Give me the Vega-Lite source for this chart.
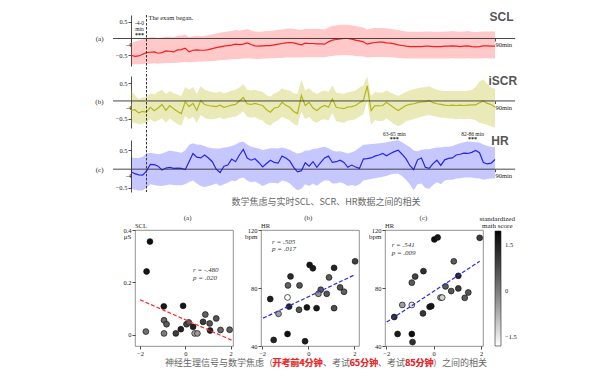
{
"$schema": "https://vega.github.io/schema/vega-lite/v6.json",
"background": "white",
"padding": {"left": 94, "top": 10, "right": 5, "bottom": 5},
"config": {
  "font": "Liberation Serif",
  "view": {"stroke": null},
  "axis": {"labelFont": "Liberation Serif", "labelFontSize": 6.5, "labelColor": "#222", "tickColor": "#222", "domainColor": "#222", "grid": false, "tickSize": 3, "labelPadding": 1, "titleFont": "Liberation Serif", "titleFontWeight": "normal", "titleFontSize": 7, "titleColor": "#222", "domainWidth": 0.8, "tickWidth": 0.8, "format": "~g"},
  "text": {"font": "Liberation Serif", "color": "#222"}
},
"datasets": {
"ts": [
{"t":-4,"a":-0.50,"alo":-0.78,"ahi":-0.15,"b":-0.27,"blo":-0.62,"bhi":0.30,"c":-0.07,"clo":-0.52,"chi":0.32},
{"t":-3,"a":-0.53,"alo":-0.77,"ahi":-0.10,"b":-0.25,"blo":-0.62,"bhi":0.16,"c":-0.12,"clo":-0.55,"chi":0.30},
{"t":-2,"a":-0.52,"alo":-0.77,"ahi":-0.06,"b":-0.34,"blo":-0.66,"bhi":0.05,"c":-0.15,"clo":-0.57,"chi":0.30},
{"t":-1,"a":-0.47,"alo":-0.76,"ahi":-0.02,"b":-0.30,"blo":-0.64,"bhi":0.10,"c":-0.16,"clo":-0.57,"chi":0.33},
{"t":0,"a":-0.42,"alo":-0.75,"ahi":0.02,"b":-0.32,"blo":-0.62,"bhi":0.12,"c":-0.05,"clo":-0.50,"chi":0.42},
{"t":1,"a":-0.41,"alo":-0.75,"ahi":0.03,"b":-0.18,"blo":-0.52,"bhi":0.22,"c":0.13,"clo":-0.40,"chi":0.44},
{"t":2,"a":-0.40,"alo":-0.74,"ahi":0.04,"b":-0.28,"blo":-0.60,"bhi":0.18,"c":0.12,"clo":-0.42,"chi":0.42},
{"t":3,"a":-0.44,"alo":-0.75,"ahi":0.01,"b":-0.20,"blo":-0.55,"bhi":0.26,"c":0.08,"clo":-0.44,"chi":0.40},
{"t":4,"a":-0.42,"alo":-0.74,"ahi":0.03,"b":-0.10,"blo":-0.50,"bhi":0.32,"c":-0.02,"clo":-0.45,"chi":0.42},
{"t":5,"a":-0.37,"alo":-0.73,"ahi":0.05,"b":-0.27,"blo":-0.62,"bhi":0.20,"c":0.03,"clo":-0.43,"chi":0.46},
{"t":6,"a":-0.38,"alo":-0.73,"ahi":0.05,"b":-0.13,"blo":-0.50,"bhi":0.28,"c":0.05,"clo":-0.41,"chi":0.50},
{"t":7,"a":-0.40,"alo":-0.73,"ahi":0.04,"b":-0.22,"blo":-0.58,"bhi":0.22,"c":0.02,"clo":-0.42,"chi":0.48},
{"t":8,"a":-0.34,"alo":-0.72,"ahi":0.08,"b":-0.30,"blo":-0.66,"bhi":0.18,"c":0.03,"clo":-0.43,"chi":0.46},
{"t":9,"a":-0.33,"alo":-0.71,"ahi":0.09,"b":-0.36,"blo":-0.70,"bhi":0.14,"c":0.02,"clo":-0.43,"chi":0.44},
{"t":10,"a":-0.29,"alo":-0.70,"ahi":0.12,"b":-0.02,"blo":-0.42,"bhi":0.40,"c":-0.01,"clo":-0.40,"chi":0.50},
{"t":11,"a":-0.40,"alo":-0.71,"ahi":0.04,"b":-0.16,"blo":-0.52,"bhi":0.32,"c":0.20,"clo":-0.34,"chi":0.65},
{"t":12,"a":-0.35,"alo":-0.70,"ahi":0.07,"b":-0.07,"blo":-0.45,"bhi":0.40,"c":0.42,"clo":-0.30,"chi":0.69},
{"t":13,"a":-0.34,"alo":-0.69,"ahi":0.08,"b":-0.27,"blo":-0.62,"bhi":0.20,"c":0.32,"clo":-0.38,"chi":0.66},
{"t":14,"a":-0.35,"alo":-0.69,"ahi":0.07,"b":0.01,"blo":-0.40,"bhi":0.42,"c":0.30,"clo":-0.45,"chi":0.65},
{"t":15,"a":-0.35,"alo":-0.68,"ahi":0.08,"b":-0.10,"blo":-0.48,"bhi":0.32,"c":0.38,"clo":-0.48,"chi":0.62},
{"t":16,"a":-0.33,"alo":-0.68,"ahi":0.10,"b":-0.13,"blo":-0.52,"bhi":0.28,"c":0.30,"clo":-0.45,"chi":0.58},
{"t":17,"a":-0.30,"alo":-0.67,"ahi":0.12,"b":-0.15,"blo":-0.52,"bhi":0.25,"c":0.20,"clo":-0.42,"chi":0.56},
{"t":18,"a":-0.27,"alo":-0.66,"ahi":0.15,"b":-0.16,"blo":-0.50,"bhi":0.24,"c":0.00,"clo":-0.38,"chi":0.55},
{"t":19,"a":-0.25,"alo":-0.65,"ahi":0.17,"b":-0.12,"blo":-0.47,"bhi":0.27,"c":-0.09,"clo":-0.45,"chi":0.55},
{"t":20,"a":-0.23,"alo":-0.64,"ahi":0.19,"b":-0.18,"blo":-0.52,"bhi":0.22,"c":0.08,"clo":-0.40,"chi":0.58},
{"t":21,"a":-0.21,"alo":-0.63,"ahi":0.21,"b":-0.15,"blo":-0.48,"bhi":0.25,"c":0.11,"clo":-0.36,"chi":0.59},
{"t":22,"a":-0.20,"alo":-0.62,"ahi":0.22,"b":-0.12,"blo":-0.46,"bhi":0.30,"c":0.27,"clo":-0.30,"chi":0.62},
{"t":23,"a":-0.17,"alo":-0.61,"ahi":0.25,"b":-0.10,"blo":-0.45,"bhi":0.32,"c":0.20,"clo":-0.32,"chi":0.66},
{"t":24,"a":-0.18,"alo":-0.61,"ahi":0.24,"b":0.00,"blo":-0.38,"bhi":0.38,"c":0.38,"clo":-0.25,"chi":0.72},
{"t":25,"a":-0.17,"alo":-0.60,"ahi":0.25,"b":0.10,"blo":-0.30,"bhi":0.48,"c":0.53,"clo":-0.22,"chi":0.74},
{"t":26,"a":-0.13,"alo":-0.60,"ahi":0.28,"b":-0.08,"blo":-0.45,"bhi":0.32,"c":0.30,"clo":-0.30,"chi":0.66},
{"t":27,"a":-0.18,"alo":-0.60,"ahi":0.24,"b":-0.10,"blo":-0.48,"bhi":0.30,"c":0.24,"clo":-0.35,"chi":0.60},
{"t":28,"a":-0.22,"alo":-0.61,"ahi":0.21,"b":-0.07,"blo":-0.46,"bhi":0.32,"c":0.28,"clo":-0.33,"chi":0.58},
{"t":29,"a":-0.23,"alo":-0.61,"ahi":0.20,"b":-0.10,"blo":-0.52,"bhi":0.28,"c":0.18,"clo":-0.38,"chi":0.55},
{"t":30,"a":-0.22,"alo":-0.60,"ahi":0.21,"b":-0.13,"blo":-0.56,"bhi":0.26,"c":0.06,"clo":-0.45,"chi":0.51},
{"t":31,"a":-0.21,"alo":-0.60,"ahi":0.22,"b":-0.25,"blo":-0.66,"bhi":0.16,"c":0.15,"clo":-0.40,"chi":0.53},
{"t":32,"a":-0.21,"alo":-0.59,"ahi":0.22,"b":-0.32,"blo":-0.70,"bhi":0.12,"c":0.24,"clo":-0.36,"chi":0.56},
{"t":33,"a":-0.19,"alo":-0.59,"ahi":0.24,"b":-0.20,"blo":-0.60,"bhi":0.22,"c":0.18,"clo":-0.37,"chi":0.56},
{"t":34,"a":-0.17,"alo":-0.58,"ahi":0.26,"b":-0.18,"blo":-0.55,"bhi":0.26,"c":0.16,"clo":-0.38,"chi":0.55},
{"t":35,"a":-0.15,"alo":-0.58,"ahi":0.27,"b":-0.04,"blo":-0.45,"bhi":0.36,"c":0.35,"clo":-0.30,"chi":0.58},
{"t":36,"a":-0.13,"alo":-0.57,"ahi":0.29,"b":-0.12,"blo":-0.50,"bhi":0.32,"c":0.30,"clo":-0.33,"chi":0.55},
{"t":37,"a":-0.12,"alo":-0.57,"ahi":0.30,"b":-0.18,"blo":-0.55,"bhi":0.30,"c":0.22,"clo":-0.38,"chi":0.52},
{"t":38,"a":-0.13,"alo":-0.57,"ahi":0.29,"b":-0.30,"blo":-0.66,"bhi":0.22,"c":0.05,"clo":-0.48,"chi":0.46},
{"t":39,"a":-0.16,"alo":-0.57,"ahi":0.27,"b":-0.36,"blo":-0.70,"bhi":0.20,"c":-0.07,"clo":-0.56,"chi":0.42},
{"t":40,"a":-0.19,"alo":-0.57,"ahi":0.25,"b":0.15,"blo":-0.30,"bhi":0.60,"c":-0.04,"clo":-0.52,"chi":0.44},
{"t":41,"a":-0.14,"alo":-0.56,"ahi":0.29,"b":-0.13,"blo":-0.52,"bhi":0.30,"c":0.17,"clo":-0.40,"chi":0.50},
{"t":42,"a":-0.15,"alo":-0.56,"ahi":0.28,"b":-0.04,"blo":-0.45,"bhi":0.36,"c":0.08,"clo":-0.45,"chi":0.50},
{"t":43,"a":-0.15,"alo":-0.56,"ahi":0.28,"b":-0.20,"blo":-0.58,"bhi":0.26,"c":0.20,"clo":-0.38,"chi":0.54},
{"t":44,"a":-0.16,"alo":-0.56,"ahi":0.28,"b":-0.27,"blo":-0.62,"bhi":0.20,"c":0.05,"clo":-0.44,"chi":0.55},
{"t":45,"a":-0.16,"alo":-0.56,"ahi":0.28,"b":-0.18,"blo":-0.55,"bhi":0.26,"c":0.18,"clo":-0.36,"chi":0.58},
{"t":46,"a":-0.17,"alo":-0.56,"ahi":0.27,"b":-0.13,"blo":-0.52,"bhi":0.30,"c":0.30,"clo":-0.30,"chi":0.60},
{"t":47,"a":-0.10,"alo":-0.54,"ahi":0.33,"b":-0.18,"blo":-0.56,"bhi":0.26,"c":0.35,"clo":-0.30,"chi":0.56},
{"t":48,"a":-0.05,"alo":-0.52,"ahi":0.38,"b":0.06,"blo":-0.34,"bhi":0.44,"c":0.18,"clo":-0.38,"chi":0.50},
{"t":49,"a":-0.03,"alo":-0.51,"ahi":0.39,"b":-0.18,"blo":-0.58,"bhi":0.24,"c":0.20,"clo":-0.38,"chi":0.47},
{"t":50,"a":-0.01,"alo":-0.50,"ahi":0.41,"b":-0.20,"blo":-0.60,"bhi":0.22,"c":0.24,"clo":-0.35,"chi":0.48},
{"t":51,"a":0.00,"alo":-0.50,"ahi":0.41,"b":-0.22,"blo":-0.62,"bhi":0.20,"c":0.18,"clo":-0.38,"chi":0.45},
{"t":52,"a":0.00,"alo":-0.50,"ahi":0.41,"b":-0.17,"blo":-0.56,"bhi":0.25,"c":0.05,"clo":-0.45,"chi":0.42},
{"t":53,"a":-0.02,"alo":-0.51,"ahi":0.39,"b":-0.16,"blo":-0.55,"bhi":0.27,"c":0.11,"clo":-0.42,"chi":0.45},
{"t":54,"a":-0.05,"alo":-0.52,"ahi":0.37,"b":-0.13,"blo":-0.52,"bhi":0.30,"c":0.06,"clo":-0.45,"chi":0.50},
{"t":55,"a":-0.07,"alo":-0.53,"ahi":0.35,"b":-0.05,"blo":-0.45,"bhi":0.38,"c":0.02,"clo":-0.40,"chi":0.58},
{"t":56,"a":-0.10,"alo":-0.54,"ahi":0.33,"b":0.01,"blo":-0.38,"bhi":0.45,"c":0.27,"clo":-0.30,"chi":0.65},
{"t":57,"a":-0.17,"alo":-0.57,"ahi":0.27,"b":0.43,"blo":0.00,"bhi":0.70,"c":0.28,"clo":-0.28,"chi":0.66},
{"t":58,"a":-0.14,"alo":-0.56,"ahi":0.30,"b":-0.27,"blo":-0.68,"bhi":0.15,"c":0.30,"clo":-0.26,"chi":0.67},
{"t":59,"a":-0.12,"alo":-0.55,"ahi":0.31,"b":-0.13,"blo":-0.55,"bhi":0.25,"c":0.35,"clo":-0.24,"chi":0.68},
{"t":60,"a":-0.11,"alo":-0.55,"ahi":0.31,"b":-0.14,"blo":-0.57,"bhi":0.24,"c":0.38,"clo":-0.22,"chi":0.69},
{"t":61,"a":-0.11,"alo":-0.55,"ahi":0.31,"b":-0.13,"blo":-0.57,"bhi":0.24,"c":0.42,"clo":-0.20,"chi":0.70},
{"t":62,"a":-0.13,"alo":-0.56,"ahi":0.30,"b":-0.04,"blo":-0.50,"bhi":0.30,"c":0.36,"clo":-0.18,"chi":0.72},
{"t":63,"a":-0.14,"alo":-0.56,"ahi":0.29,"b":-0.12,"blo":-0.58,"bhi":0.24,"c":0.42,"clo":-0.14,"chi":0.74},
{"t":64,"a":-0.16,"alo":-0.57,"ahi":0.27,"b":-0.20,"blo":-0.66,"bhi":0.18,"c":0.47,"clo":-0.12,"chi":0.76},
{"t":65,"a":-0.19,"alo":-0.58,"ahi":0.25,"b":-0.27,"blo":-0.72,"bhi":0.14,"c":0.51,"clo":-0.12,"chi":0.77},
{"t":66,"a":-0.21,"alo":-0.59,"ahi":0.23,"b":-0.20,"blo":-0.66,"bhi":0.20,"c":0.40,"clo":-0.18,"chi":0.72},
{"t":67,"a":-0.23,"alo":-0.60,"ahi":0.21,"b":-0.13,"blo":-0.58,"bhi":0.26,"c":0.28,"clo":-0.28,"chi":0.65},
{"t":68,"a":-0.24,"alo":-0.60,"ahi":0.20,"b":-0.10,"blo":-0.55,"bhi":0.30,"c":0.10,"clo":-0.40,"chi":0.59},
{"t":69,"a":-0.24,"alo":-0.60,"ahi":0.20,"b":-0.08,"blo":-0.52,"bhi":0.33,"c":-0.01,"clo":-0.56,"chi":0.50},
{"t":70,"a":-0.24,"alo":-0.60,"ahi":0.20,"b":-0.05,"blo":-0.48,"bhi":0.36,"c":0.25,"clo":-0.40,"chi":0.48},
{"t":71,"a":-0.24,"alo":-0.60,"ahi":0.20,"b":-0.03,"blo":-0.45,"bhi":0.38,"c":0.30,"clo":-0.38,"chi":0.52},
{"t":72,"a":-0.23,"alo":-0.60,"ahi":0.21,"b":-0.02,"blo":-0.42,"bhi":0.40,"c":0.05,"clo":-0.50,"chi":0.53},
{"t":73,"a":-0.23,"alo":-0.60,"ahi":0.21,"b":0.01,"blo":-0.40,"bhi":0.42,"c":0.02,"clo":-0.52,"chi":0.53},
{"t":74,"a":-0.24,"alo":-0.60,"ahi":0.20,"b":-0.05,"blo":-0.43,"bhi":0.36,"c":0.15,"clo":-0.42,"chi":0.56},
{"t":75,"a":-0.24,"alo":-0.60,"ahi":0.20,"b":-0.08,"blo":-0.45,"bhi":0.32,"c":0.24,"clo":-0.35,"chi":0.58},
{"t":76,"a":-0.24,"alo":-0.60,"ahi":0.20,"b":-0.10,"blo":-0.47,"bhi":0.30,"c":0.10,"clo":-0.40,"chi":0.58},
{"t":77,"a":-0.23,"alo":-0.60,"ahi":0.21,"b":-0.12,"blo":-0.48,"bhi":0.28,"c":0.25,"clo":-0.30,"chi":0.60},
{"t":78,"a":-0.23,"alo":-0.60,"ahi":0.21,"b":-0.13,"blo":-0.50,"bhi":0.28,"c":0.29,"clo":-0.28,"chi":0.60},
{"t":79,"a":-0.22,"alo":-0.59,"ahi":0.22,"b":-0.12,"blo":-0.50,"bhi":0.28,"c":0.30,"clo":-0.28,"chi":0.62},
{"t":80,"a":-0.23,"alo":-0.60,"ahi":0.21,"b":-0.13,"blo":-0.52,"bhi":0.28,"c":0.38,"clo":-0.25,"chi":0.66},
{"t":81,"a":-0.24,"alo":-0.60,"ahi":0.20,"b":-0.12,"blo":-0.50,"bhi":0.28,"c":0.40,"clo":-0.24,"chi":0.69},
{"t":82,"a":-0.23,"alo":-0.60,"ahi":0.21,"b":-0.13,"blo":-0.52,"bhi":0.28,"c":0.43,"clo":-0.22,"chi":0.72},
{"t":83,"a":-0.22,"alo":-0.59,"ahi":0.22,"b":-0.12,"blo":-0.50,"bhi":0.29,"c":0.42,"clo":-0.22,"chi":0.74},
{"t":84,"a":-0.24,"alo":-0.60,"ahi":0.20,"b":-0.11,"blo":-0.52,"bhi":0.32,"c":0.45,"clo":-0.22,"chi":0.73},
{"t":85,"a":-0.25,"alo":-0.60,"ahi":0.19,"b":-0.11,"blo":-0.55,"bhi":0.40,"c":0.50,"clo":-0.24,"chi":0.72},
{"t":86,"a":-0.24,"alo":-0.60,"ahi":0.20,"b":-0.05,"blo":-0.62,"bhi":0.55,"c":0.44,"clo":-0.25,"chi":0.71},
{"t":87,"a":-0.22,"alo":-0.59,"ahi":0.21,"b":0.00,"blo":-0.65,"bhi":0.62,"c":0.18,"clo":-0.28,"chi":0.66},
{"t":88,"a":-0.22,"alo":-0.59,"ahi":0.21,"b":-0.07,"blo":-0.68,"bhi":0.48,"c":0.14,"clo":-0.26,"chi":0.62},
{"t":89,"a":-0.23,"alo":-0.60,"ahi":0.21,"b":-0.10,"blo":-0.72,"bhi":0.38,"c":0.16,"clo":-0.25,"chi":0.60},
{"t":90,"a":-0.23,"alo":-0.60,"ahi":0.21,"b":-0.18,"blo":-0.76,"bhi":0.34,"c":0.26,"clo":-0.25,"chi":0.59}
],
"sa": [
{"x":-1.56,"y":0.356,"z":1.8},{"x":-1.71,"y":0.242,"z":1.7},{"x":-0.95,"y":0.109,"z":1.6},{"x":-0.10,"y":0.111,"z":1.7},
{"x":-0.94,"y":0.056,"z":0.3},{"x":-0.83,"y":0.041,"z":0.5},{"x":-0.94,"y":0.006,"z":0.0},{"x":-1.74,"y":0.013,"z":0.2},
{"x":-0.42,"y":0.006,"z":1.0},{"x":-0.20,"y":0.022,"z":1.5},{"x":0.05,"y":0.041,"z":0.8},{"x":0.15,"y":0.048,"z":0.5},
{"x":0.34,"y":0.031,"z":1.5},{"x":0.41,"y":0.006,"z":-0.6},{"x":0.53,"y":0.006,"z":-0.4},{"x":0.78,"y":0.050,"z":1.0},
{"x":0.88,"y":0.078,"z":0.4},{"x":1.07,"y":0.044,"z":0.6},{"x":1.09,"y":0.017,"z":1.4},{"x":1.36,"y":0.063,"z":0.6},
{"x":1.55,"y":0.019,"z":0.3},{"x":1.95,"y":0.020,"z":0.4}
],
"sb": [
{"x":2.03,"y":98.4,"z":0.9},{"x":0.06,"y":95.9,"z":1.7},{"x":0.20,"y":93.6,"z":1.6},{"x":1.12,"y":93.9,"z":1.4},
{"x":-0.77,"y":88.0,"z":1.3},{"x":0.90,"y":87.3,"z":0.5},{"x":-0.88,"y":81.8,"z":0.4},{"x":-0.38,"y":81.8,"z":0.6},
{"x":0.54,"y":78.8,"z":0.5},{"x":1.38,"y":80.4,"z":0.6},{"x":1.55,"y":77.4,"z":0.4},{"x":0.44,"y":76.0,"z":-0.3},
{"x":0.80,"y":76.0,"z":0.6},{"x":-1.65,"y":72.4,"z":1.5},{"x":-0.90,"y":73.5,"z":-1.8},{"x":-0.83,"y":67.2,"z":1.4},
{"x":-1.29,"y":62.2,"z":-0.5},{"x":-0.40,"y":65.0,"z":0.6},{"x":-0.06,"y":66.6,"z":1.7},{"x":0.36,"y":66.1,"z":1.6},
{"x":1.12,"y":66.1,"z":0.7},{"x":-1.50,"y":44.2,"z":1.4},{"x":-0.90,"y":48.3,"z":1.8},{"x":-0.14,"y":43.3,"z":1.5}
],
"sc": [
{"x":1.94,"y":114.6,"z":1.0},{"x":0.03,"y":113.5,"z":1.8},{"x":0.17,"y":114.9,"z":1.6},{"x":0.85,"y":98.4,"z":0.5},
{"x":-0.43,"y":91.6,"z":1.2},{"x":-0.78,"y":87.9,"z":0.9},{"x":-0.92,"y":83.7,"z":0.5},{"x":1.04,"y":88.4,"z":1.4},
{"x":0.50,"y":81.1,"z":0.5},{"x":0.74,"y":77.9,"z":0.6},{"x":1.04,"y":79.7,"z":1.0},{"x":1.46,"y":76.9,"z":0.6},
{"x":1.31,"y":73.2,"z":0.5},{"x":0.29,"y":73.4,"z":-0.4},{"x":0.36,"y":73.4,"z":-1.2},{"x":-1.32,"y":68.3,"z":-0.5},
{"x":-0.92,"y":68.3,"z":-1.5},{"x":-0.17,"y":67.0,"z":1.6},{"x":-0.10,"y":67.5,"z":1.7},{"x":-0.45,"y":62.5,"z":1.1},
{"x":-1.66,"y":60.0,"z":1.2},{"x":-1.52,"y":48.3,"z":1.6},{"x":-0.92,"y":48.3,"z":1.8},{"x":-0.89,"y":42.7,"z":1.2}
],
"la": [{"x":-2.0,"y":0.134},{"x":2.1,"y":-0.022}],
"lb": [{"x":-1.96,"y":59.2},{"x":2.03,"y":89.2}],
"lc": [{"x":-1.98,"y":56.5},{"x":1.94,"y":98.4}]
},
"spacing": 0,
"resolve": {"scale": {"fill": "independent"}, "legend": {"fill": "independent"}},
"vconcat": [
{
"spacing": 0,
"vconcat": [
{
"width": 364, "height": 51,
"layer": [
{"data": {"name": "ts"}, "mark": {"type": "area", "color": "#ff0000", "opacity": 0.21},
 "encoding": {
  "x": {"field": "t", "type": "quantitative", "scale": {"domain": [-4, 90], "nice": false, "zero": false},
        "axis": {"values": [-4, 90], "offset": -27.5, "domain": false, "tickSize": 2.5, "labelPadding": 0.5, "labelExpr": "datum.value == 90 ? '90min' : '-4'", "labelAlign": {"condition": {"test": "datum.value == 90", "value": "left"}, "value": "right"}, "labelFlush": false, "labelBound": false, "labelOverlap": false, "title": null}},
  "y": {"field": "alo", "type": "quantitative", "scale": {"domain": [-0.82, 0.70], "nice": false, "zero": false},
        "axis": {"values": [-0.5, 0.5], "title": "(a)", "titleAngle": 0, "titleAlign": "right", "titleBaseline": "middle", "titleX": -28, "titleY": 23.5}},
  "y2": {"field": "ahi"}}},
{"data": {"name": "ts"}, "mark": {"type": "line", "color": "#f41c1c", "strokeWidth": 1.2},
 "encoding": {"x": {"field": "t", "type": "quantitative"}, "y": {"field": "a", "type": "quantitative"}}},
{"data": {"values": [{}]}, "mark": {"type": "rule", "color": "#333", "strokeWidth": 0.9},
 "encoding": {"x": {"datum": -8.65}, "x2": {"datum": 95.2}, "y": {"datum": 0}}},
{"data": {"values": [{}]}, "mark": {"type": "rule", "color": "#333", "strokeWidth": 1, "strokeDash": [2.5, 1.5]},
 "encoding": {"x": {"datum": 0}, "y": {"datum": 0.70}, "y2": {"datum": -1.0}}},
{"data": {"values": [{}]}, "mark": {"type": "text", "text": "The exam began.", "align": "left", "baseline": "top", "dx": 2, "fontSize": 6.5},
 "encoding": {"x": {"datum": 0}, "y": {"datum": 0.70}}},
{"data": {"values": [{}]}, "mark": {"type": "text", "text": "-4-0", "fontSize": 5.5},
 "encoding": {"x": {"datum": -1.8}, "y": {"datum": 0.46}}},
{"data": {"values": [{}]}, "mark": {"type": "text", "text": "min", "fontSize": 5.5},
 "encoding": {"x": {"datum": -1.8}, "y": {"datum": 0.28}}},
{"data": {"values": [{}]}, "mark": {"type": "text", "text": "***", "fontSize": 6, "fontWeight": "bold"},
 "encoding": {"x": {"datum": -1.8}, "y": {"datum": 0.11}}},
{"data": {"values": [{}]}, "mark": {"type": "text", "text": "SCL", "font": "Liberation Sans", "fontWeight": "bold", "fontSize": 12, "color": "#555"},
 "encoding": {"x": {"datum": 91.7}, "y": {"datum": 0.65}}}
]
},
{
"width": 364, "height": 52,
"layer": [
{"data": {"name": "ts"}, "mark": {"type": "area", "color": "#bcbd22", "opacity": 0.32},
 "encoding": {
  "x": {"field": "t", "type": "quantitative", "scale": {"domain": [-4, 90], "nice": false, "zero": false},
        "axis": {"values": [-4, 90], "offset": -27, "domain": false, "tickSize": 2.5, "labelPadding": 0.5, "labelExpr": "datum.value == 90 ? '90min' : '-4'", "labelAlign": {"condition": {"test": "datum.value == 90", "value": "left"}, "value": "right"}, "labelFlush": false, "labelBound": false, "labelOverlap": false, "title": null}},
  "y": {"field": "blo", "type": "quantitative", "scale": {"domain": [-0.77, 0.71], "nice": false, "zero": false},
        "axis": {"values": [-0.5, 0.5], "title": "(b)", "titleAngle": 0, "titleAlign": "right", "titleBaseline": "middle", "titleX": -28, "titleY": 25}},
  "y2": {"field": "bhi"}}},
{"data": {"name": "ts"}, "mark": {"type": "line", "color": "#b5b51c", "strokeWidth": 1.2},
 "encoding": {"x": {"field": "t", "type": "quantitative"}, "y": {"field": "b", "type": "quantitative"}}},
{"data": {"values": [{}]}, "mark": {"type": "rule", "color": "#333", "strokeWidth": 0.9},
 "encoding": {"x": {"datum": -8.65}, "x2": {"datum": 95.2}, "y": {"datum": 0}}},
{"data": {"values": [{}]}, "mark": {"type": "rule", "color": "#333", "strokeWidth": 1, "strokeDash": [2.5, 1.5]},
 "encoding": {"x": {"datum": 0}, "y": {"datum": 0.767}, "y2": {"datum": -0.77}}},
{"data": {"values": [{}]}, "mark": {"type": "text", "text": "iSCR", "font": "Liberation Sans", "fontWeight": "bold", "fontSize": 12, "color": "#555"},
 "encoding": {"x": {"datum": 92}, "y": {"datum": 0.58}}}
]
},
{
"width": 364, "height": 52,
"layer": [
{"data": {"name": "ts"}, "mark": {"type": "area", "color": "#0000ff", "opacity": 0.22},
 "encoding": {
  "x": {"field": "t", "type": "quantitative", "scale": {"domain": [-4, 90], "nice": false, "zero": false},
        "axis": {"values": [-4, 90], "offset": -22.8, "domain": false, "tickSize": 2.5, "labelPadding": 0.5, "labelExpr": "datum.value == 90 ? '90min' : '-4'", "labelAlign": {"condition": {"test": "datum.value == 90", "value": "left"}, "value": "right"}, "labelFlush": false, "labelBound": false, "labelOverlap": false, "title": null}},
  "y": {"field": "clo", "type": "quantitative", "scale": {"domain": [-0.61, 0.78], "nice": false, "zero": false},
        "axis": {"values": [-0.5, 0.5], "title": "(c)", "titleAngle": 0, "titleAlign": "right", "titleBaseline": "middle", "titleX": -28, "titleY": 29.2}},
  "y2": {"field": "chi"}}},
{"data": {"name": "ts"}, "mark": {"type": "line", "color": "#2424ee", "strokeWidth": 1.2},
 "encoding": {"x": {"field": "t", "type": "quantitative"}, "y": {"field": "c", "type": "quantitative"}}},
{"data": {"values": [{}]}, "mark": {"type": "rule", "color": "#333", "strokeWidth": 1, "strokeDash": [2.5, 1.5]},
 "encoding": {"x": {"datum": 0}, "y": {"datum": 1.05}, "y2": {"datum": -0.61}}},
{"data": {"values": [{}]}, "mark": {"type": "rule", "color": "#333", "strokeWidth": 0.9},
 "encoding": {"x": {"datum": -8.65}, "x2": {"datum": 95.2}, "y": {"datum": 0}}},
{"data": {"values": [{}]}, "mark": {"type": "text", "text": "63-65 min", "fontSize": 5.5},
 "encoding": {"x": {"datum": 64}, "y": {"datum": 0.95}}},
{"data": {"values": [{}]}, "mark": {"type": "text", "text": "***", "fontSize": 6, "fontWeight": "bold"},
 "encoding": {"x": {"datum": 64}, "y": {"datum": 0.815}}},
{"data": {"values": [{}]}, "mark": {"type": "text", "text": "82-86 min", "fontSize": 5.5},
 "encoding": {"x": {"datum": 84.2}, "y": {"datum": 0.95}}},
{"data": {"values": [{}]}, "mark": {"type": "text", "text": "***", "fontSize": 6, "fontWeight": "bold"},
 "encoding": {"x": {"datum": 84.2}, "y": {"datum": 0.815}}},
{"data": {"values": [{}]}, "mark": {"type": "text", "text": "HR", "font": "Liberation Sans", "fontWeight": "bold", "fontSize": 12, "color": "#555"},
 "encoding": {"x": {"datum": 91.3}, "y": {"datum": 0.76}}}
]
}
]
},
{
"spacing": 2,
"center": true,
"resolve": {"scale": {"fill": "independent"}, "legend": {"fill": "independent"}},
"vconcat": [
{
"width": 390, "height": 18,
"data": {"values": [{}]},
"mark": {"type": "text", "text": "数学焦虑与实时SCL、SCR、HR数据之间的相关", "font": "Noto Sans CJK SC", "fontSize": 9, "color": "#666"},
"encoding": {}
},
{
"spacing": 8,
"resolve": {"scale": {"fill": "shared"}, "legend": {"fill": "shared"}},
"hconcat": [
{
"width": 98, "height": 116,
"view": {"stroke": "#777", "strokeWidth": 0.8},
"layer": [
{"data": {"name": "sa"}, "mark": {"type": "point", "filled": true, "size": 34, "stroke": "#111", "strokeWidth": 0.7, "opacity": 1},
 "encoding": {
  "x": {"field": "x", "type": "quantitative", "scale": {"domain": [-2.22, 2.1], "nice": false, "zero": false}, "axis": {"values": [-2, 0, 2], "domain": false, "title": null}},
  "y": {"field": "y", "type": "quantitative", "scale": {"domain": [-0.042, 0.4], "nice": false, "zero": false}, "axis": {"values": [0, 0.2, 0.4], "domain": false, "title": "μS", "titleAngle": 0, "titleAlign": "right", "titleBaseline": "top", "titleX": -4, "titleY": 2}},
  "fill": {"field": "z", "type": "quantitative", "scale": {"domain": [-1.8, 1.95], "range": ["#ffffff", "#000000"]},
    "legend": {"type": "gradient", "direction": "vertical", "orient": "none", "legendX": 360, "legendY": 1, "padding": 0, "gradientLength": 115, "gradientThickness": 6, "gradientStrokeColor": "#222", "gradientStrokeWidth": 0.6, "values": [-1.5, 0, 1.5], "format": ".1~f", "labelFont": "Liberation Serif", "labelFontSize": 6.5, "labelColor": "#222", "labelOffset": 4, "title": null}}
 }},
{"data": {"name": "la"}, "mark": {"type": "line", "color": "#ff2a2a", "strokeDash": [4, 2], "strokeWidth": 1.2},
 "encoding": {"x": {"field": "x", "type": "quantitative"}, "y": {"field": "y", "type": "quantitative"}}},
{"data": {"values": [{}]}, "mark": {"type": "text", "text": "(a)", "fontSize": 7, "color": "#333"},
 "encoding": {"x": {"datum": 0.1}, "y": {"datum": 0.446}}},
{"data": {"values": [{}]}, "mark": {"type": "text", "text": "SCL", "align": "left", "baseline": "bottom", "dy": -1, "fontSize": 6.5},
 "encoding": {"x": {"datum": -2.22}, "y": {"datum": 0.4}}},
{"data": {"values": [{}]}, "mark": {"type": "text", "text": "r = -.480", "align": "left", "fontSize": 7, "fontStyle": "italic", "color": "#333"},
 "encoding": {"x": {"datum": 0.34}, "y": {"datum": 0.249}}},
{"data": {"values": [{}]}, "mark": {"type": "text", "text": "p = .020", "align": "left", "fontSize": 7, "fontStyle": "italic", "color": "#333"},
 "encoding": {"x": {"datum": 0.34}, "y": {"datum": 0.216}}}
]
},
{
"width": 98, "height": 116,
"view": {"stroke": "#777", "strokeWidth": 0.8},
"layer": [
{"data": {"name": "sb"}, "mark": {"type": "point", "filled": true, "size": 34, "stroke": "#111", "strokeWidth": 0.7, "opacity": 1},
 "encoding": {
  "x": {"field": "x", "type": "quantitative", "scale": {"domain": [-2.05, 2.2], "nice": false, "zero": false}, "axis": {"values": [-2, 0, 2], "domain": false, "title": null}},
  "y": {"field": "y", "type": "quantitative", "scale": {"domain": [40, 120], "nice": false, "zero": false}, "axis": {"values": [40, 80, 120], "format": "d", "domain": false, "title": "bpm", "titleAngle": 0, "titleAlign": "right", "titleBaseline": "top", "titleX": -4, "titleY": 2}},
  "fill": {"field": "z", "type": "quantitative", "scale": {"domain": [-1.8, 1.95], "range": ["#ffffff", "#000000"]},
    "legend": {"type": "gradient", "direction": "vertical", "orient": "none", "legendX": 360, "legendY": 1, "padding": 0, "gradientLength": 115, "gradientThickness": 6, "gradientStrokeColor": "#222", "gradientStrokeWidth": 0.6, "values": [-1.5, 0, 1.5], "format": ".1~f", "labelFont": "Liberation Serif", "labelFontSize": 6.5, "labelColor": "#222", "labelOffset": 4, "title": null}}
 }},
{"data": {"name": "lb"}, "mark": {"type": "line", "color": "#2a2aee", "strokeDash": [4, 2], "strokeWidth": 1.2},
 "encoding": {"x": {"field": "x", "type": "quantitative"}, "y": {"field": "y", "type": "quantitative"}}},
{"data": {"values": [{}]}, "mark": {"type": "text", "text": "(b)", "fontSize": 7, "color": "#333"},
 "encoding": {"x": {"datum": 0}, "y": {"datum": 128.3}}},
{"data": {"values": [{}]}, "mark": {"type": "text", "text": "HR", "align": "left", "baseline": "bottom", "dy": -1, "fontSize": 6.5},
 "encoding": {"x": {"datum": -2.05}, "y": {"datum": 120}}},
{"data": {"values": [{}]}, "mark": {"type": "text", "text": "r = .505", "align": "left", "fontSize": 7, "fontStyle": "italic", "color": "#333"},
 "encoding": {"x": {"datum": -1.57}, "y": {"datum": 111.6}}},
{"data": {"values": [{}]}, "mark": {"type": "text", "text": "p = .017", "align": "left", "fontSize": 7, "fontStyle": "italic", "color": "#333"},
 "encoding": {"x": {"datum": -1.57}, "y": {"datum": 107.0}}}
]
},
{
"width": 98, "height": 116,
"view": {"stroke": "#777", "strokeWidth": 0.8},
"layer": [
{"data": {"name": "sc"}, "mark": {"type": "point", "filled": true, "size": 34, "stroke": "#111", "strokeWidth": 0.7, "opacity": 1},
 "encoding": {
  "x": {"field": "x", "type": "quantitative", "scale": {"domain": [-2.05, 2.08], "nice": false, "zero": false}, "axis": {"values": [-2, 0, 2], "domain": false, "title": null}},
  "y": {"field": "y", "type": "quantitative", "scale": {"domain": [40, 120], "nice": false, "zero": false}, "axis": {"values": [40, 80, 120], "format": "d", "domain": false, "title": "bpm", "titleAngle": 0, "titleAlign": "right", "titleBaseline": "top", "titleX": -4, "titleY": 2}},
  "fill": {"field": "z", "type": "quantitative", "scale": {"domain": [-1.8, 1.95], "range": ["#ffffff", "#000000"]},
    "legend": {"type": "gradient", "direction": "vertical", "orient": "none", "legendX": 360, "legendY": 1, "padding": 0, "gradientLength": 115, "gradientThickness": 6, "gradientStrokeColor": "#222", "gradientStrokeWidth": 0.6, "values": [-1.5, 0, 1.5], "format": ".1~f", "labelFont": "Liberation Serif", "labelFontSize": 6.5, "labelColor": "#222", "labelOffset": 4, "title": null}}
 }},
{"data": {"name": "lc"}, "mark": {"type": "line", "color": "#2a2aee", "strokeDash": [4, 2], "strokeWidth": 1.2},
 "encoding": {"x": {"field": "x", "type": "quantitative"}, "y": {"field": "y", "type": "quantitative"}}},
{"data": {"values": [{}]}, "mark": {"type": "text", "text": "(c)", "fontSize": 7, "color": "#333"},
 "encoding": {"x": {"datum": -0.43}, "y": {"datum": 128.3}}},
{"data": {"values": [{}]}, "mark": {"type": "text", "text": "HR", "align": "left", "baseline": "bottom", "dy": -1, "fontSize": 6.5},
 "encoding": {"x": {"datum": -2.05}, "y": {"datum": 120}}},
{"data": {"values": [{}]}, "mark": {"type": "text", "text": "r = .541", "align": "left", "fontSize": 7, "fontStyle": "italic", "color": "#333"},
 "encoding": {"x": {"datum": -1.77}, "y": {"datum": 109.5}}},
{"data": {"values": [{}]}, "mark": {"type": "text", "text": "p = .009", "align": "left", "fontSize": 7, "fontStyle": "italic", "color": "#333"},
 "encoding": {"x": {"datum": -1.77}, "y": {"datum": 104.4}}},
{"data": {"values": [{}]}, "mark": {"type": "text", "text": "standardized", "fontSize": 7},
 "encoding": {"x": {"datum": 2.68}, "y": {"datum": 127.8}}},
{"data": {"values": [{}]}, "mark": {"type": "text", "text": "math score", "fontSize": 7},
 "encoding": {"x": {"datum": 2.68}, "y": {"datum": 122.8}}}
]
}
]
},
{
"width": 390, "height": 6,
"layer": [
{"data": {"values": [{}]}, "mark": {"type": "text", "text": "神经生理信号与数学焦虑（开考前4分钟、考试65分钟、考试85分钟）之间的相关", "font": "Noto Sans CJK SC", "fontSize": 9, "color": "#666"}, "encoding": {}},
{"data": {"values": [{}]}, "mark": {"type": "text", "text": "​　　　　　　　　　　　　开考前4分钟　　　65分钟　　　85分钟　　　　　　​", "font": "Noto Sans CJK SC", "fontSize": 9, "fontWeight": "bold", "color": "#ff1f1f"}, "encoding": {}}
]
}
]
}
]
}
